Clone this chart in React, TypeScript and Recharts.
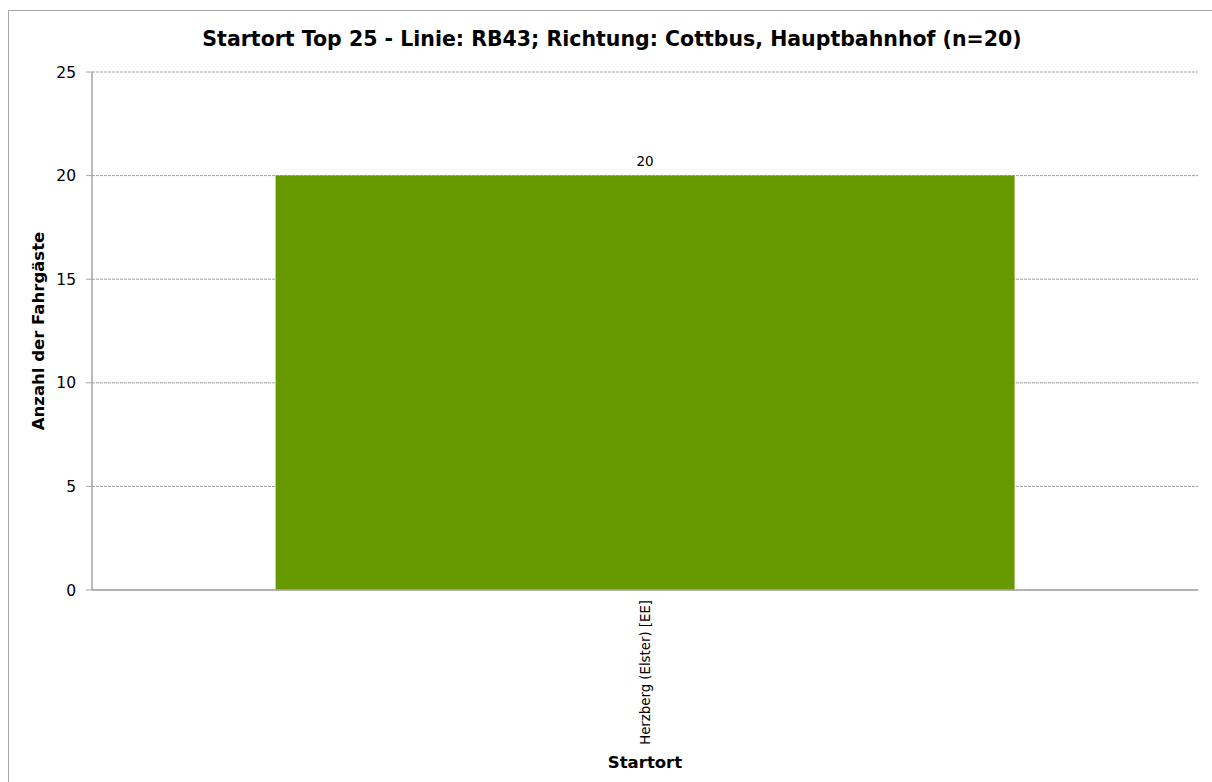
import React from "react";
import {
  BarChart,
  Bar,
  XAxis,
  YAxis,
  CartesianGrid,
  LabelList,
} from "recharts";

const categories = ["Herzberg (Elster) [EE]"];
const values = [20];
const yTicks = [0, 5, 10, 15, 20, 25];

const data = categories.map((name, i) => ({ name, value: values[i] }));

const FONT = "'DejaVu Sans', Verdana, sans-serif";

const renderXTick = (props: any) => {
  const { x, y, payload } = props;
  return (
    <text
      x={x}
      y={y + 2}
      transform={`rotate(-90, ${x}, ${y + 2})`}
      textAnchor="end"
      dominantBaseline="central"
      fontSize={13.3}
      fontFamily={FONT}
      fill="#000"
    >
      {payload.value}
    </text>
  );
};

export default function App() {
  return (
    <div
      style={{
        position: "absolute",
        left: 0,
        top: 0,
        width: 1212,
        height: 782,
        background: "#fff",
        overflow: "hidden",
        fontFamily: FONT,
      }}
    >
      <div
        style={{
          position: "absolute",
          left: 8,
          top: 10,
          width: 1220,
          height: 800,
          border: "1px solid #a6a6a6",
        }}
      />
      <div
        style={{
          position: "absolute",
          left: 0,
          top: 27,
          width: 1224,
          textAlign: "center",
          fontWeight: "bold",
          fontSize: 20.5,
          color: "#000",
        }}
      >
        Startort Top 25 - Linie: RB43; Richtung: Cottbus, Hauptbahnhof (n=20)
      </div>
      <div style={{ position: "absolute", left: 0, top: 0 }}>
        <BarChart
          width={1212}
          height={782}
          data={data}
          margin={{ top: 72, right: 14, left: 0, bottom: 0 }}
          barCategoryGap="16.6%"
        >
          <CartesianGrid
            vertical={false}
            stroke="#a0a0a0"
            strokeDasharray="3 1"
          />
          <XAxis
            dataKey="name"
            height={192}
            tick={renderXTick}
            tickLine={false}
            axisLine={{ stroke: "#a6a6a6", strokeWidth: 1.5 }}
            interval={0}
            label={{
              value: "Startort",
              position: "insideBottom",
              offset: 14,
              fontWeight: "bold",
              fontSize: 16.5,
              fill: "#000",
              fontFamily: FONT,
            }}
          />
          <YAxis
            width={92}
            domain={[0, 25]}
            ticks={yTicks}
            tick={{ fontSize: 15.5, fill: "#000", fontFamily: FONT }}
            tickLine={{ stroke: "#a6a6a6" }}
            tickSize={6}
            tickMargin={10}
            axisLine={{ stroke: "#a6a6a6", strokeWidth: 1.5 }}
            label={{
              value: "Anzahl der Fahrgäste",
              angle: -90,
              position: "insideLeft",
              offset: 38,
              style: { textAnchor: "middle" },
              fontWeight: "bold",
              fontSize: 16.5,
              fill: "#000",
              fontFamily: FONT,
            }}
          />
          <Bar dataKey="value" fill="#669900" isAnimationActive={false}>
            <LabelList
              dataKey="value"
              position="top"
              offset={10}
              fontSize={13.5}
              fill="#000"
              fontFamily={FONT}
            />
          </Bar>
        </BarChart>
      </div>
    </div>
  );
}
